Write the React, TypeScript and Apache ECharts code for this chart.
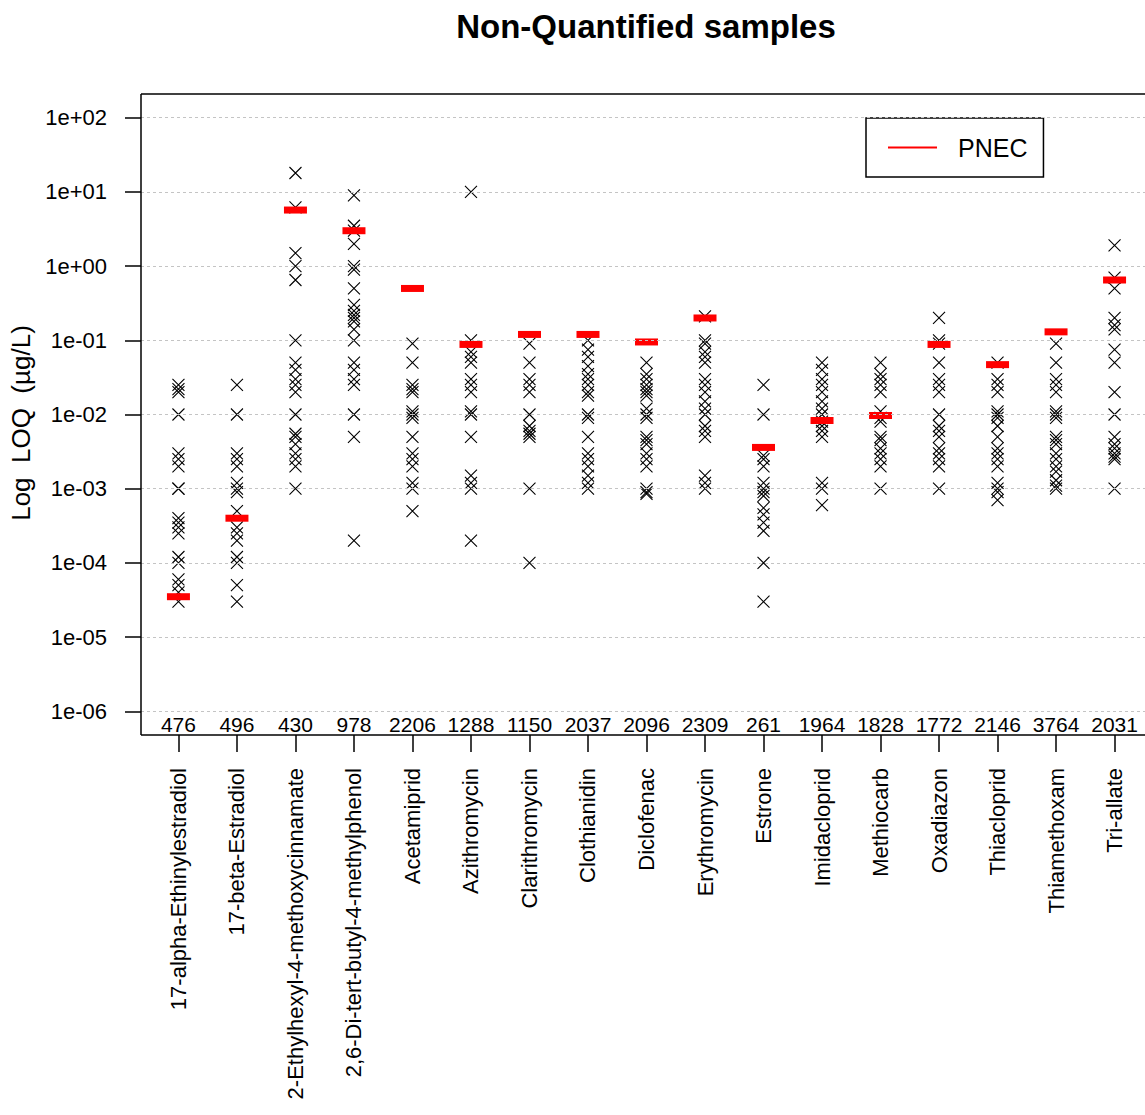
import React, { useEffect, useRef } from "react";
import * as echarts from "echarts";

const categories = [
  "17-alpha-Ethinylestradiol",
  "17-beta-Estradiol",
  "2-Ethylhexyl-4-methoxycinnamate",
  "2,6-Di-tert-butyl-4-methylphenol",
  "Acetamiprid",
  "Azithromycin",
  "Clarithromycin",
  "Clothianidin",
  "Diclofenac",
  "Erythromycin",
  "Estrone",
  "Imidacloprid",
  "Methiocarb",
  "Oxadiazon",
  "Thiacloprid",
  "Thiamethoxam",
  "Tri-allate",
];

const sampleCounts = [476, 496, 430, 978, 2206, 1288, 1150, 2037, 2096, 2309, 261, 1964, 1828, 1772, 2146, 3764, 2031];

// PNEC values (µg/L)
const pnecValues = [0.000035, 0.0004, 5.7, 3, 0.5, 0.088, 0.12, 0.12, 0.095, 0.2, 0.0036, 0.0083, 0.0097, 0.088, 0.047, 0.13, 0.65];

// LOQ values of non-quantified samples (µg/L)
const loqEE2 = [0.025, 0.022, 0.02, 0.01, 0.003, 0.0025, 0.002, 0.001, 0.001, 0.0004, 0.00035, 0.0003, 0.00025, 0.00012, 0.0001, 0.00006, 0.00005, 0.00004, 0.00003];
const loqE2 = [0.025, 0.01, 0.003, 0.0025, 0.002, 0.0012, 0.001, 0.0009, 0.0005, 0.0003, 0.00025, 0.0002, 0.00012, 0.0001, 0.00005, 0.00003];
const loqEHMC = [18, 6.2, 1.5, 1.0, 0.65, 0.1, 0.05, 0.04, 0.03, 0.025, 0.02, 0.01, 0.0055, 0.005, 0.004, 0.003, 0.0025, 0.002, 0.001];
const loqBHT = [9, 3.5, 3, 2, 1.0, 0.9, 0.5, 0.3, 0.25, 0.22, 0.2, 0.18, 0.14, 0.1, 0.05, 0.04, 0.03, 0.025, 0.01, 0.005, 0.0002];
const loqAcetamiprid = [0.09, 0.05, 0.025, 0.022, 0.02, 0.011, 0.01, 0.009, 0.005, 0.003, 0.0025, 0.002, 0.0012, 0.001, 0.0005];
const loqAzithromycin = [10, 0.1, 0.07, 0.06, 0.05, 0.03, 0.025, 0.02, 0.011, 0.01, 0.005, 0.0015, 0.0012, 0.001, 0.0002];
const loqClarithromycin = [0.09, 0.05, 0.03, 0.025, 0.02, 0.01, 0.007, 0.006, 0.0055, 0.005, 0.001, 0.0001];
const loqClothianidin = [0.1, 0.075, 0.06, 0.045, 0.035, 0.03, 0.025, 0.02, 0.018, 0.01, 0.009, 0.005, 0.003, 0.0025, 0.002, 0.0015, 0.0012, 0.001];
const loqDiclofenac = [0.05, 0.035, 0.03, 0.025, 0.022, 0.02, 0.018, 0.012, 0.01, 0.009, 0.005, 0.0045, 0.004, 0.003, 0.0025, 0.002, 0.001, 0.0009, 0.00085];
const loqErythromycin = [0.21, 0.1, 0.09, 0.07, 0.06, 0.05, 0.03, 0.025, 0.02, 0.015, 0.012, 0.01, 0.007, 0.006, 0.005, 0.0015, 0.0012, 0.001];
const loqEstrone = [0.025, 0.01, 0.0028, 0.0025, 0.002, 0.0012, 0.001, 0.0009, 0.0008, 0.00055, 0.00045, 0.00035, 0.00027, 0.0001, 0.00003];
const loqImidacloprid = [0.05, 0.04, 0.03, 0.025, 0.02, 0.015, 0.012, 0.01, 0.008, 0.007, 0.006, 0.005, 0.0012, 0.001, 0.0006];
const loqMethiocarb = [0.05, 0.035, 0.03, 0.025, 0.02, 0.011, 0.009, 0.008, 0.005, 0.0045, 0.0035, 0.003, 0.0025, 0.002, 0.001];
const loqOxadiazon = [0.2, 0.1, 0.09, 0.05, 0.03, 0.025, 0.02, 0.01, 0.007, 0.006, 0.005, 0.0035, 0.003, 0.0025, 0.002, 0.001];
const loqThiacloprid = [0.05, 0.03, 0.025, 0.02, 0.011, 0.01, 0.009, 0.007, 0.005, 0.0035, 0.003, 0.0025, 0.002, 0.0012, 0.001, 0.0009, 0.0007];
const loqThiamethoxam = [0.09, 0.05, 0.03, 0.025, 0.02, 0.011, 0.01, 0.009, 0.005, 0.0045, 0.004, 0.003, 0.0025, 0.002, 0.0017, 0.0013, 0.0011, 0.001];
const loqTriallate = [1.9, 0.7, 0.5, 0.2, 0.16, 0.14, 0.075, 0.05, 0.02, 0.01, 0.005, 0.004, 0.0035, 0.003, 0.0027, 0.0025, 0.001];

const loqValues = [
  loqEE2, loqE2, loqEHMC, loqBHT, loqAcetamiprid, loqAzithromycin, loqClarithromycin,
  loqClothianidin, loqDiclofenac, loqErythromycin, loqEstrone, loqImidacloprid,
  loqMethiocarb, loqOxadiazon, loqThiacloprid, loqThiamethoxam, loqTriallate,
];

const yTickExponents = [-6, -5, -4, -3, -2, -1, 0, 1, 2];
const yTickLabels = ["1e-06", "1e-05", "1e-04", "1e-03", "1e-02", "1e-01", "1e+00", "1e+01", "1e+02"];

const FONT = "'Liberation Sans', Arial, Helvetica, sans-serif";

// layout
const CHART_H = 1115;
const BOX_TOP = 94;
const BOX_BOTTOM = 735;
const TICK_LEN = 17;
const Y_TOP = 2.32;
const Y_BOX_BOTTOM = -6.32;
const X_MIN = 0.36;
const X_MAX = 17.64;
// the grid reaches down to the tips of the category ticks
const PX_PER_UNIT = (BOX_BOTTOM - BOX_TOP) / (Y_TOP - Y_BOX_BOTTOM);
const Y_AXIS_MIN = Y_BOX_BOTTOM - TICK_LEN / PX_PER_UNIT;
const GRID_BOTTOM = CHART_H - BOX_BOTTOM - TICK_LEN;

export default function App() {
  const ref = useRef<HTMLDivElement>(null);

  useEffect(() => {
    if (!ref.current) return;
    const chart = echarts.init(ref.current, null, { renderer: "svg" });
    const xTicks = categories.map((_, i) => i + 1);
    const loqPoints: number[][] = [];
    loqValues.forEach((arr, i) => arr.forEach((v) => loqPoints.push([i + 1, Math.log10(v)])));
    const pnecPoints = pnecValues.map((v, i) => [i + 1, Math.log10(v)]);
    const black = { color: "#000", width: 1.5 };
    const boxHeight = BOX_BOTTOM - BOX_TOP;

    const boxEdges = [
      [{ coord: [X_MIN, Y_TOP] }, { coord: [X_MAX, Y_TOP] }],
      [{ coord: [X_MIN, Y_BOX_BOTTOM] }, { coord: [X_MAX, Y_BOX_BOTTOM] }],
      [{ coord: [X_MIN, Y_TOP] }, { coord: [X_MIN, Y_BOX_BOTTOM] }],
      [{ coord: [X_MAX, Y_TOP] }, { coord: [X_MAX, Y_BOX_BOTTOM] }],
    ];

    chart.setOption({
      animation: false,
      backgroundColor: "#fff",
      title: {
        text: "Non-Quantified samples",
        left: 646,
        top: 10,
        padding: 0,
        textAlign: "center",
        textStyle: { fontSize: 33, fontWeight: "bold", color: "#000", fontFamily: FONT },
      },
      legend: {
        data: [{ name: "PNEC", icon: "rect" }],
        left: 866,
        top: 118,
        itemWidth: 49,
        itemHeight: 2,
        padding: [17, 16, 17, 22],
        borderColor: "#000",
        borderWidth: 1.5,
        backgroundColor: "#fff",
        selectedMode: false,
        textStyle: { fontSize: 25, color: "#000", fontFamily: FONT, padding: [0, 0, 0, 16] },
      },
      grid: {
        left: 141,
        top: BOX_TOP,
        right: 8,
        bottom: GRID_BOTTOM,
        show: false,
      },
      xAxis: [
        {
          type: "value",
          position: "bottom",
          min: X_MIN,
          max: X_MAX,
          axisLine: { show: false, onZero: false },
          splitLine: { show: false },
          axisTick: { show: true, inside: true, customValues: xTicks, length: TICK_LEN, lineStyle: black },
          axisLabel: {
            customValues: xTicks,
            rotate: 90,
            margin: 16,
            fontSize: 22,
            color: "#000",
            fontFamily: FONT,
            formatter: (v: number) => categories[Math.round(v) - 1] ?? "",
          },
        },
        {
          // sample counts, written just above the bottom edge of the box
          type: "value",
          position: "top",
          offset: -boxHeight,
          min: X_MIN,
          max: X_MAX,
          axisLine: { show: false, onZero: false },
          splitLine: { show: false },
          axisTick: { show: false },
          axisLabel: {
            customValues: xTicks,
            margin: 0,
            fontSize: 21,
            color: "#000",
            fontFamily: FONT,
            formatter: (v: number) => String(sampleCounts[Math.round(v) - 1] ?? ""),
          },
        },
      ],
      yAxis: {
        type: "value",
        min: Y_AXIS_MIN,
        max: Y_TOP,
        axisLine: { show: false, onZero: false },
        splitLine: { show: false },
        axisTick: { show: true, customValues: yTickExponents, length: 16, lineStyle: black },
        axisLabel: {
          customValues: yTickExponents,
          margin: 34,
          fontSize: 22,
          color: "#000",
          fontFamily: FONT,
          formatter: (v: number) => yTickLabels[yTickExponents.indexOf(Math.round(v))] ?? "",
        },
        name: "Log  LOQ  (\u00b5g/L)",
        nameLocation: "middle",
        nameGap: 103,
        nameTextStyle: { fontSize: 26, color: "#000", fontFamily: FONT, padding: [0, 0, 0, 0] },
      },
      series: [
        {
          type: "scatter",
          name: "gridlines",
          data: [],
          silent: true,
          clip: false,
          markLine: {
            silent: true,
            symbol: ["none", "none"],
            label: { show: false },
            lineStyle: { color: "#c4c4c4", type: [3, 3], width: 1, opacity: 1 },
            data: yTickExponents.map((e) => [{ coord: [X_MIN, e] }, { coord: [X_MAX, e] }]),
          },
        },
        {
          type: "scatter",
          name: "LOQ",
          data: loqPoints,
          silent: true,
          symbol: "path://M0,0L10,10M10,0L0,10",
          symbolSize: 12,
          itemStyle: { color: "rgba(0,0,0,0)", borderColor: "#000", borderWidth: 1.1, opacity: 1 },
        },
        {
          type: "scatter",
          name: "PNEC",
          data: pnecPoints,
          silent: true,
          symbol: "rect",
          symbolSize: [23, 7],
          itemStyle: { color: "#ff0000", opacity: 1 },
        },
        {
          type: "scatter",
          name: "box",
          data: [],
          silent: true,
          clip: false,
          markLine: {
            silent: true,
            symbol: ["none", "none"],
            label: { show: false },
            lineStyle: { color: "#000", type: "solid", width: 1.5, opacity: 1 },
            data: boxEdges,
          },
        },
      ],
    });

    return () => chart.dispose();
  }, []);

  return (
    <div style={{ position: "fixed", left: 0, top: 0, width: 1145, height: 1115, overflow: "hidden", background: "#fff" }}>
      <div ref={ref} style={{ width: 1160, height: CHART_H }} />
    </div>
  );
}
